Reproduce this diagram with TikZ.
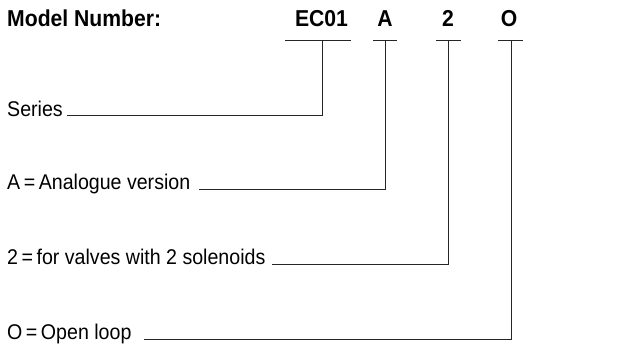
\documentclass[tikz,border=0pt]{standalone}
\usepackage{fontspec}
\setmainfont{Liberation Sans}
\newfontfamily\narrowsans[FakeStretch=0.92]{Liberation Sans}
\begin{document}
\begin{tikzpicture}[x=1pt,y=-1pt,
  title/.style={inner sep=0pt,anchor=base west,font=\narrowsans\fontsize{23}{27}\selectfont\bfseries},
  code/.style={inner sep=0pt,anchor=base,font=\narrowsans\fontsize{23}{27}\selectfont\bfseries},
  lab/.style={inner sep=0pt,anchor=base west,font=\narrowsans\fontsize{21.3}{25}\selectfont},
  ln/.style={line width=0.8pt,black!85}]
\useasboundingbox (0,0) rectangle (629,353);
\node[title] (title) at (7,27) {Model Number:};
\node[code] (ec) at (321.5,27) {EC01};
\node[code] (a) at (385,27) {A};
\node[code] (two) at (448,27) {2};
\node[code] (o) at (509,27) {O};
% underlines
\coordinate (ecl) at (285,40); \coordinate (ecr) at (351,40); \coordinate (ecm) at (322,40);
\coordinate (al) at (373,40); \coordinate (ar) at (397,40); \coordinate (am) at (385,40);
\coordinate (tl) at (436,40); \coordinate (tr) at (461,40); \coordinate (tm) at (448,40);
\coordinate (ol) at (498,40); \coordinate (or) at (523,40); \coordinate (om) at (511,40);
\draw[ln] (ecl) -- (ecr);
\draw[ln] (al) -- (ar);
\draw[ln] (tl) -- (tr);
\draw[ln] (ol) -- (or);
% labels
\node[lab] (series) at (7,116) {Series};
\node[lab] (ana) at (7,189) {A\,=\,Analogue version};
\node[lab] (sol) at (7,264) {2\,=\,for valves with 2 solenoids};
\node[lab] (ol2) at (7,339) {O\,=\,Open loop};
\coordinate (s1) at (67,115.5);
\coordinate (s2) at (199,189);
\coordinate (s3) at (272,264);
\coordinate (s4) at (144,339);
\draw[ln] (s1) -| (ecm);
\draw[ln] (s2) -| (am);
\draw[ln] (s3) -| (tm);
\draw[ln] (s4) -| (om);
\end{tikzpicture}
\end{document}
